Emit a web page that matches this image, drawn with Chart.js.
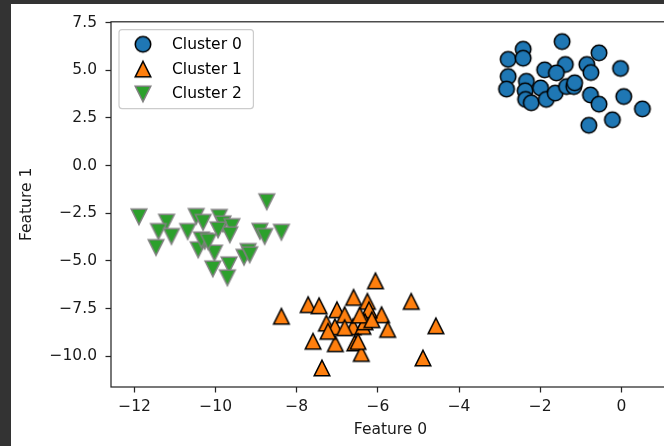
<!DOCTYPE html>
<html>
<head>
<meta charset="utf-8">
<script src="https://cdn.jsdelivr.net/npm/chart.js@4/dist/chart.umd.min.js"></script>
<style>
  html, body { margin: 0; padding: 0; background: #333333; overflow: hidden; width: 664px; height: 446px; }
  #sheet { position: absolute; left: 11px; top: 4px; width: 700px; height: 442px; background: #ffffff; }
  canvas { display: block; }
</style>
</head>
<body>
<div id="sheet"><canvas id="plot" width="700" height="442"></canvas></div>
<script>
// Three blobs in a 2-D feature space
const clusterNames = ['Cluster 0', 'Cluster 1', 'Cluster 2'];

const cluster0X = [-1.46, -2.42, -2.79, -2.42, -0.55, -0.85, -0.75, -1.38, -1.89, -1.60, -0.02, -2.79, -2.83, -2.34, -2.37, -1.99, -2.36, -2.22, -1.85, -1.63, -1.35, -1.17, -1.15, -0.76, -0.55, 0.06, 0.52, -0.22, -0.80];
const cluster0Y = [6.50, 6.10, 5.57, 5.63, 5.91, 5.30, 4.88, 5.30, 5.02, 4.86, 5.09, 4.67, 4.01, 4.42, 3.92, 4.07, 3.47, 3.29, 3.47, 3.80, 4.14, 4.14, 4.34, 3.70, 3.22, 3.62, 2.97, 2.40, 2.11];

const cluster1X = [-8.38, -7.72, -7.45, -7.01, -6.60, -6.26, -6.06, -5.91, -5.18, -4.57, -4.89, -5.76, -7.27, -7.06, -7.60, -7.05, -6.61, -6.57, -6.41, -7.38, -6.37, -6.82, -7.23, -6.22, -6.32, -6.49, -6.45, -6.82, -6.15];
const cluster1Y = [-7.91, -7.30, -7.36, -7.57, -6.92, -7.13, -6.05, -7.83, -7.13, -8.41, -10.10, -8.60, -8.27, -8.46, -9.22, -9.35, -8.46, -9.31, -9.86, -10.62, -8.44, -7.83, -8.70, -7.57, -8.20, -9.23, -7.85, -8.51, -8.09];

const cluster2X = [-11.89, -11.21, -11.41, -11.09, -11.47, -10.69, -10.48, -10.31, -9.91, -9.82, -9.60, -9.65, -9.94, -10.27, -10.43, -10.03, -10.07, -9.67, -9.71, -9.30, -9.20, -8.91, -8.79, -8.38, -8.74, -10.35, -10.18, -9.16];
const cluster2Y = [-2.69, -2.97, -3.46, -3.72, -4.30, -3.46, -2.67, -2.98, -2.72, -3.06, -3.20, -3.63, -3.37, -3.97, -4.42, -4.59, -5.42, -5.21, -5.89, -4.81, -4.51, -3.45, -3.72, -3.50, -1.90, -3.90, -3.99, -4.68];

const xTicks = [-12, -10, -8, -6, -4, -2, 0];
const yTicks = [-10, -7.5, -5, -2.5, 0, 2.5, 5, 7.5];

const PT = 1.55;                 // pixels per point
const FONT = '"DejaVu Sans", sans-serif';
const FONT_PX = 15.5;
const MINUS = '\u2212';

// Marker sprites: circle, up-triangle, down-triangle
function marker(shape, fill, edge) {
  const size = 22, c = document.createElement('canvas');
  c.width = size; c.height = size;
  const g = c.getContext('2d');
  const m = size / 2, h = 5 * PT;
  g.beginPath();
  if (shape === 'o') {
    g.arc(m, m, h, 0, Math.PI * 2);
  } else if (shape === '^') {
    g.moveTo(m, m - h); g.lineTo(m + h, m + h); g.lineTo(m - h, m + h); g.closePath();
  } else {
    g.moveTo(m, m + h); g.lineTo(m + h, m - h); g.lineTo(m - h, m - h); g.closePath();
  }
  g.fillStyle = fill; g.fill();
  g.lineWidth = PT; g.strokeStyle = edge; g.stroke();
  return c;
}

const sprites = [
  marker('o', '#1f77b4', '#000000'),
  marker('^', '#ff7f0e', '#000000'),
  marker('v', '#2ca02c', '#808080')
];

const pairs = (xs, ys) => xs.map((x, i) => ({ x: x, y: ys[i] }));

const datasets = [
  { label: clusterNames[0], data: pairs(cluster0X, cluster0Y), pointStyle: sprites[0] },
  { label: clusterNames[1], data: pairs(cluster1X, cluster1Y), pointStyle: sprites[1] },
  { label: clusterNames[2], data: pairs(cluster2X, cluster2Y), pointStyle: sprites[2] }
].map(d => Object.assign(d, { pointRadius: 8, pointHoverRadius: 8, showLine: false }));

// Axes frame drawn around the plotting area
const framePlugin = {
  id: 'frame',
  afterDatasetsDraw(chart) {
    const { ctx, chartArea: a } = chart;
    ctx.save();
    ctx.strokeStyle = '#262626';
    ctx.lineWidth = 0.8 * PT;
    ctx.strokeRect(a.left, a.top, a.right - a.left, a.bottom - a.top);
    ctx.restore();
  }
};

// Boxed legend in the upper-left corner of the plotting area
const legendPlugin = {
  id: 'boxLegend',
  afterDraw(chart) {
    const { ctx, chartArea: a } = chart;
    const x0 = a.left + 8, y0 = a.top + 7.8, w = 134.4, h = 79, r = 3;
    ctx.save();
    ctx.beginPath();
    ctx.roundRect(x0, y0, w, h, r);
    ctx.fillStyle = 'rgba(255,255,255,0.8)';
    ctx.fill();
    ctx.strokeStyle = '#cccccc';
    ctx.lineWidth = 1.2;
    ctx.stroke();
    ctx.font = FONT_PX + 'px ' + FONT;
    ctx.textBaseline = 'middle';
    ctx.fillStyle = '#000000';
    chart.data.datasets.forEach((ds, i) => {
      const cy = y0 + 14.7 + i * 24.8;
      const s = ds.pointStyle;
      ctx.drawImage(s, x0 + 24 - s.width / 2, cy - s.height / 2);
      ctx.fillText(ds.label, x0 + 53, cy + 0.5);
    });
    ctx.restore();
  }
};

new Chart(document.getElementById('plot'), {
  type: 'scatter',
  data: { datasets: datasets },
  options: {
    responsive: false,
    animation: false,
    events: [],
    layout: { padding: { left: 0, top: 17.5, right: 41, bottom: 0 } },
    plugins: { legend: { display: false }, tooltip: { enabled: false } },
    scales: {
      x: {
        type: 'linear',
        min: -12.58,
        max: 1.2,
        afterBuildTicks: s => { s.ticks = xTicks.map(v => ({ value: v })); },
        afterFit: s => { s.height = 59; },
        border: { display: false },
        grid: { drawOnChartArea: false, drawTicks: true, tickLength: 5.5, tickWidth: 0.8 * PT, tickColor: '#262626' },
        ticks: {
          padding: 5,
          color: '#1a1a1a',
          font: { family: FONT, size: FONT_PX },
          maxRotation: 0,
          callback: v => String(v).replace('-', MINUS)
        },
        title: {
          display: true,
          text: 'Feature 0',
          color: '#1a1a1a',
          font: { family: FONT, size: FONT_PX },
          padding: { top: 0, bottom: 6.7 }
        }
      },
      y: {
        type: 'linear',
        min: -11.62,
        max: 7.54,
        afterBuildTicks: s => { s.ticks = yTicks.map(v => ({ value: v })); },
        afterFit: s => { s.width = 100; },
        border: { display: false },
        grid: { drawOnChartArea: false, drawTicks: true, tickLength: 5.5, tickWidth: 0.8 * PT, tickColor: '#262626' },
        ticks: {
          padding: 8.5,
          color: '#1a1a1a',
          font: { family: FONT, size: FONT_PX },
          callback: v => v.toFixed(1).replace('-', MINUS)
        },
        title: {
          display: true,
          text: 'Feature 1',
          color: '#1a1a1a',
          font: { family: FONT, size: FONT_PX },
          padding: { top: 6.7, bottom: 0 }
        }
      }
    }
  },
  plugins: [framePlugin, legendPlugin]
});
</script>
</body>
</html>
